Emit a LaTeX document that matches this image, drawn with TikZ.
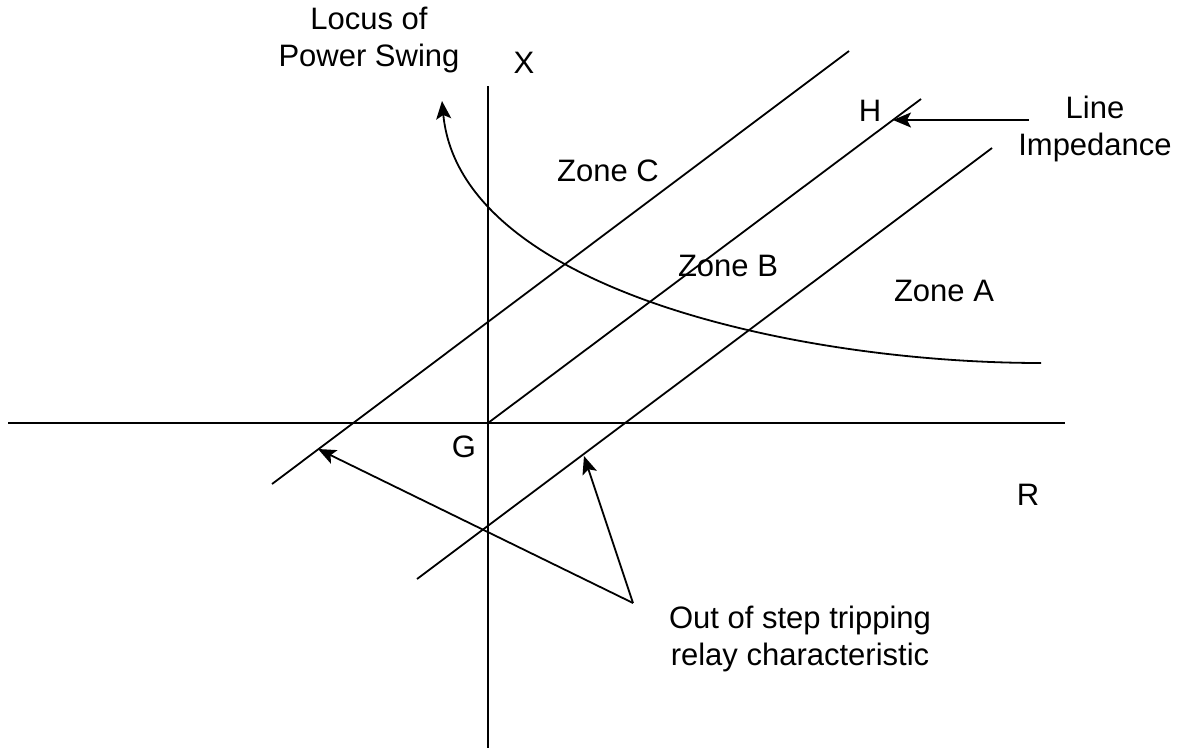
\documentclass[tikz,border=0pt]{standalone}
\usepackage{fontspec}
\setmainfont{Liberation Sans}
\usetikzlibrary{arrows.meta}
\tikzset{
  lbl/.style={inner sep=0pt, font=\fontsize{31}{37}\selectfont},
  ax/.style={line width=2pt},
  chr/.style={line width=1.8pt},
  arr/.style={line width=1.8pt, -{Stealth[length=18pt,width=15pt,inset=4pt]}}
}
\begin{document}
\begin{tikzpicture}[x=1pt,y=-1pt]
\useasboundingbox (0,0) rectangle (1178,748);
% axes
\coordinate (xl) at (8,423);
\coordinate (xr) at (1065,423);
\coordinate (yt) at (488,86);
\coordinate (yb) at (488,748);
\coordinate (G) at (488,423);
\draw[ax] (xl) -- (xr);
\draw[ax] (yt) -- (yb);
% characteristic lines
\coordinate (c1) at (272,484);
\coordinate (c2) at (849,51);
\coordinate (h2) at (921,99);
\coordinate (a1) at (417,579);
\coordinate (a2) at (992,148);
\draw[chr] (c1) -- (c2);
\draw[chr] (G) -- (h2);
\draw[chr] (a1) -- (a2);
% locus of power swing
\coordinate (s1) at (1041,363);
\coordinate (s2) at (442,101);
\draw[arr] (s1) .. controls (800,363) and (460,290) .. (s2);
% line impedance arrow
\coordinate (li) at (1029,120);
\coordinate (hp) at (893,120);
\draw[arr] (li) -- (hp);
% out of step arrows
\coordinate (v) at (633,603);
\coordinate (pc) at (318,449);
\coordinate (pa) at (584,456);
\draw[arr] (v) -- (pc);
\draw[arr] (v) -- (pa);
% labels (base = baseline of the last line)
\node[lbl, anchor=base, align=center] (locus) at (369,66) {Locus of\\Power Swing};
\node[lbl, anchor=base] (X) at (524,73) {X};
\node[lbl, anchor=base] (H) at (870,121) {H};
\node[lbl, anchor=base, align=center] (lineimp) at (1095,155) {Line\\Impedance};
\node[lbl, anchor=base] (Glab) at (464,457) {G};
\node[lbl, anchor=base] (R) at (1028,505) {R};
\node[lbl, anchor=base] (zc) at (608,181) {Zone C};
\node[lbl, anchor=base] (zb) at (728,276) {Zone B};
\node[lbl, anchor=base] (za) at (944,301) {Zone A};
\node[lbl, anchor=base, align=center] (oos) at (800,665) {Out of step tripping\\relay characteristic};
\end{tikzpicture}
\end{document}
